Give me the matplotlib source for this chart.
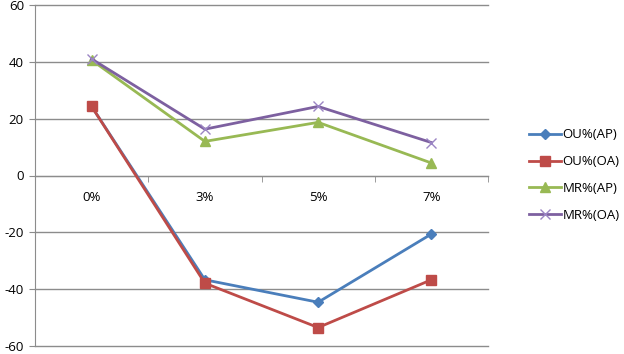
import matplotlib
matplotlib.use("Agg")
import matplotlib.pyplot as plt
import numpy as np

categories = ["0%", "3%", "5%", "7%"]
ou_ap = [24.3, -36.7, -44.6, -20.6]
ou_oa = [24.3, -37.9, -53.5, -36.7]
mr_ap = [40.6, 12.0, 18.7, 4.4]
mr_oa = [41.0, 16.3, 24.3, 11.6]
yticks = [-60, -40, -20, 0, 20, 40, 60]

plt.rcParams['font.family'] = ['Open Sans', 'DejaVu Sans']

fig = plt.figure(figsize=(6.24, 3.54), dpi=100)
ax = fig.add_axes([35/624, 1-346/354, (488-35)/624, (346-5)/354])

x = np.arange(len(categories))
grid_c = "#8c8c8c"
fs = 9.5

ax.set_ylim(-60, 60)
ax.set_xlim(-0.5, len(categories) - 0.5)
ax.set_yticks(yticks)
ax.set_yticklabels([str(v) for v in yticks], fontsize=fs)
ax.yaxis.grid(True, color=grid_c, linewidth=1.0)
ax.set_axisbelow(True)
for gl in ax.get_ygridlines():
    gl.set_clip_on(False)

for s in ["top", "right"]:
    ax.spines[s].set_visible(False)
ax.spines["left"].set_color(grid_c)
ax.spines["bottom"].set_position(("data", 0))
ax.spines["bottom"].set_color(grid_c)

ax.set_xticks(x)
ax.set_xticklabels(categories, fontsize=fs)
ax.set_xticks(np.arange(0.5, len(categories), 1.0), minor=True)
ax.tick_params(axis="x", which="major", length=0, pad=11)
ax.tick_params(axis="x", which="minor", length=4, color=grid_c, direction="out")
ax.tick_params(axis="y", length=4, color=grid_c, direction="out", pad=4)

lw = 2.0
l1, = ax.plot(x, ou_ap, color="#4A7EBB", lw=lw, marker="D", ms=5, label="OU%(AP)", zorder=3)
l2, = ax.plot(x, ou_oa, color="#BE4B48", lw=lw, marker="s", ms=7, label="OU%(OA)", zorder=4)
l3, = ax.plot(x, mr_ap, color="#98B954", lw=lw, marker="^", ms=7, label="MR%(AP)", zorder=3)
l4, = ax.plot(x, mr_oa, color="#7D60A0", lw=lw, marker="x", ms=7, mew=1.0,
              markeredgecolor="#9B85C4", label="MR%(OA)", zorder=4)

fig.legend(handles=[l1, l2, l3, l4], loc="upper left",
           bbox_to_anchor=(524/624, 1-123/354), frameon=False,
           fontsize=fs, handlelength=2.4, handletextpad=0.1,
           labelspacing=1.05, borderaxespad=0)

fig.savefig("out.png", dpi=100)
